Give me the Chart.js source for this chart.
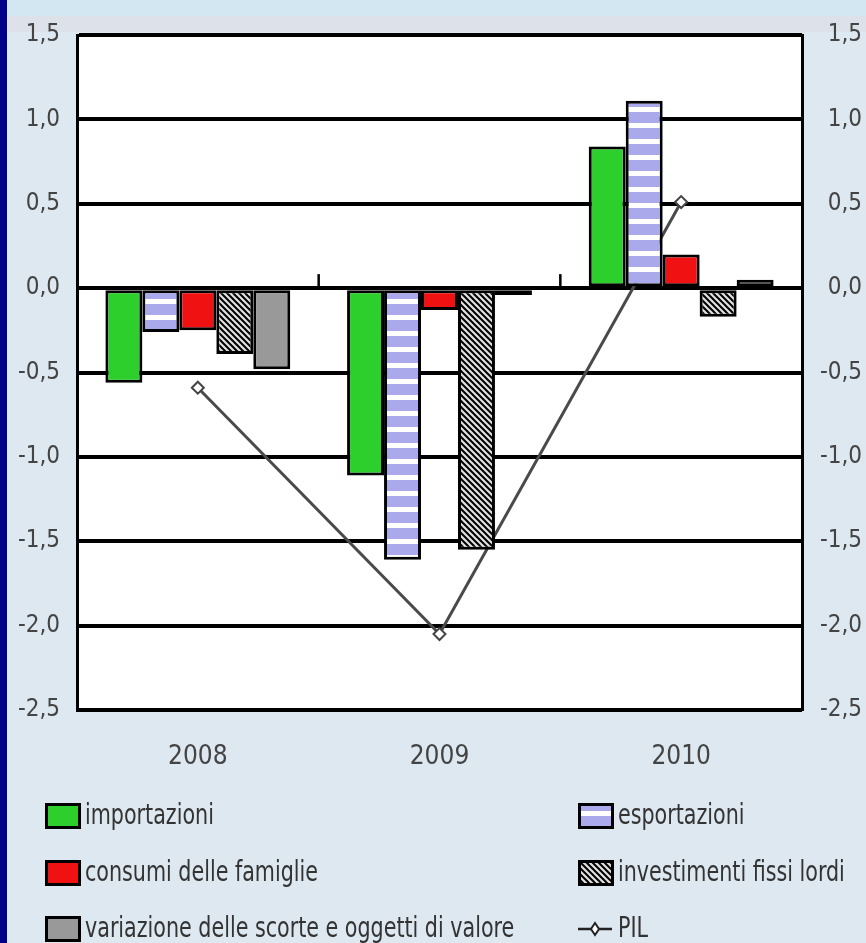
<!DOCTYPE html>
<html>
<head>
<meta charset="utf-8">
<script src="https://cdn.jsdelivr.net/npm/chart.js@4.4.1/dist/chart.umd.min.js"></script>
<style>
  html, body { margin: 0; padding: 0; background: #dde8f0; }
  #box { position: relative; width: 866px; height: 943px; }
</style>
</head>
<body>
<div id="box"><canvas id="grafico"></canvas></div>
<script>
// dati
const anni = ['2008', '2009', '2010'];
const importazioni = [-0.56, -1.11, 0.84];
const esportazioni = [-0.26, -1.61, 1.11];
const consumi = [-0.25, -0.13, 0.20];
const investimenti = [-0.39, -1.55, -0.17];
const scorte = [-0.48, -0.04, 0.05];
const pil = [-0.59, -2.05, 0.51];
const tickY = [-2.5, -2.0, -1.5, -1.0, -0.5, 0.0, 0.5, 1.0, 1.5];

const FONT = "'DejaVu Sans Condensed', 'Liberation Sans Narrow', sans-serif";

// motivo a righe orizzontali (esportazioni)
function motivoRighe() {
    const c = document.createElement('canvas');
    c.width = 8; c.height = 16;
    const g = c.getContext('2d');
    g.fillStyle = '#a9a9ec';
    g.fillRect(0, 0, 8, 16);
    g.fillStyle = '#ffffff';
    g.fillRect(0, 11, 8, 5);
    return g.createPattern(c, 'repeat');
}

// motivo tratteggiato (investimenti)
function motivoTratteggio() {
    const c = document.createElement('canvas');
    c.width = 6; c.height = 6;
    const g = c.getContext('2d');
    g.fillStyle = '#e0e0e0';
    g.fillRect(0, 0, 6, 6);
    g.strokeStyle = '#000';
    g.lineWidth = 2;
    g.beginPath();
    g.moveTo(-3, -3); g.lineTo(9, 9);
    g.moveTo(-3, 3); g.lineTo(3, 9);
    g.moveTo(3, -3); g.lineTo(9, 3);
    g.stroke();
    return g.createPattern(c, 'repeat');
}

const sfondo = {
    id: 'sfondo',
    beforeDraw(chart) {
        const { ctx, width, height, chartArea } = chart;
        ctx.save();
        ctx.fillStyle = '#dde8f0';
        ctx.fillRect(0, 0, width, height);
        ctx.fillStyle = '#d3e7f3';
        ctx.fillRect(0, 0, width, 16);
        ctx.fillStyle = '#dde1ea';
        ctx.fillRect(0, 16, width, 16);
        ctx.fillStyle = '#000088';
        ctx.fillRect(0, 0, 7, height);
        ctx.fillStyle = '#ffffff';
        ctx.fillRect(chartArea.left, chartArea.top, chartArea.right - chartArea.left, chartArea.bottom - chartArea.top);
        ctx.restore();
    }
};

// piccole tacche tra le categorie sulla linea dello zero
const tacche = {
    id: 'tacche',
    afterDatasetsDraw(chart) {
        const { ctx, scales } = chart;
        const y0 = scales.y.getPixelForValue(0);
        ctx.save();
        ctx.strokeStyle = '#000';
        ctx.lineWidth = 2.5;
        for (let i = 1; i < anni.length; i++) {
            const x = (scales.x.getPixelForValue(i - 1) + scales.x.getPixelForValue(i)) / 2;
            ctx.beginPath();
            ctx.moveTo(x, y0);
            ctx.lineTo(x, y0 - 14);
            ctx.stroke();
        }
        ctx.restore();
    }
};

// legenda su due colonne
const legenda = {
    id: 'legenda',
    afterDraw(chart) {
        const { ctx } = chart;
        const colX = [45, 578];
        const rigaY = [816, 873, 929];
        ctx.save();
        ctx.font = '28px ' + FONT;
        ctx.textBaseline = 'middle';
        chart.data.datasets.forEach((ds, i) => {
            const x = colX[i % 2];
            const y = rigaY[Math.floor(i / 2)];
            if (ds.type === 'line') {
                ctx.strokeStyle = '#222';
                ctx.lineWidth = 2.5;
                ctx.beginPath();
                ctx.moveTo(x, y); ctx.lineTo(x + 34, y);
                ctx.stroke();
                ctx.fillStyle = '#fff';
                ctx.lineWidth = 2;
                ctx.beginPath();
                ctx.moveTo(x + 17, y - 6); ctx.lineTo(x + 21, y);
                ctx.lineTo(x + 17, y + 6); ctx.lineTo(x + 13, y);
                ctx.closePath();
                ctx.fill(); ctx.stroke();
            } else {
                ctx.fillStyle = ds.backgroundColor;
                ctx.fillRect(x, y - 13, 36, 26);
                ctx.strokeStyle = '#000';
                ctx.lineWidth = 3;
                ctx.strokeRect(x + 1.5, y - 11.5, 33, 23);
            }
            // testo compresso come nell'originale
            ctx.save();
            ctx.translate(x + 40, y + 1);
            ctx.scale(0.82, 1);
            ctx.fillStyle = '#333';
            ctx.fillText(ds.label, 0, 0);
            ctx.restore();
        });
        ctx.restore();
    }
};

const formato = v => v.toFixed(1).replace('.', ',');

new Chart(document.getElementById('grafico'), {
    type: 'bar',
    data: {
        labels: anni,
        datasets: [
            { label: 'importazioni', data: importazioni, backgroundColor: '#2ccf2c' },
            { label: 'esportazioni', data: esportazioni, backgroundColor: motivoRighe() },
            { label: 'consumi delle famiglie', data: consumi, backgroundColor: '#f01212' },
            { label: 'investimenti fissi lordi', data: investimenti, backgroundColor: motivoTratteggio() },
            { label: 'variazione delle scorte e oggetti di valore', data: scorte, backgroundColor: '#999999' },
            {
                label: 'PIL', type: 'line', data: pil, order: 0,
                borderColor: '#4a4a4a', borderWidth: 3,
                pointStyle: 'rectRot', pointRadius: 6,
                pointBackgroundColor: '#fff', pointBorderColor: '#444', pointBorderWidth: 2
            }
        ]
    },
    options: {
        responsive: true,
        maintainAspectRatio: false,
        animation: false,
        layout: { padding: { top: 35, left: 0, right: 4, bottom: 0 } },
        datasets: {
            bar: {
                order: 1,
                borderColor: '#000',
                borderWidth: 3,
                borderSkipped: false,
                categoryPercentage: 0.765,
                barPercentage: 1
            }
        },
        plugins: { legend: { display: false }, tooltip: { enabled: false } },
        scales: {
            x: {
                grid: { display: false },
                border: { display: false },
                ticks: { color: '#444', padding: 24, font: { family: FONT, size: 26 } },
                afterFit: s => { s.height = 233; }
            },
            y: {
                position: 'left',
                min: -2.5, max: 1.5,
                afterBuildTicks: s => { s.ticks = tickY.map(v => ({ value: v })); },
                grid: { color: '#000', lineWidth: 4, drawTicks: false },
                border: { color: '#000', width: 3 },
                ticks: { color: '#444', padding: 17, callback: formato, font: { family: FONT, size: 24 } },
                afterFit: s => { s.width = 77; }
            },
            y2: {
                position: 'right',
                min: -2.5, max: 1.5,
                afterBuildTicks: s => { s.ticks = tickY.map(v => ({ value: v })); },
                grid: { display: false, drawTicks: false },
                border: { color: '#000', width: 3 },
                ticks: { color: '#444', padding: 4, crossAlign: 'far', callback: formato, font: { family: FONT, size: 24 } },
                afterFit: s => { s.width = 60; }
            }
        }
    },
    plugins: [sfondo, tacche, legenda]
});
</script>
</body>
</html>
